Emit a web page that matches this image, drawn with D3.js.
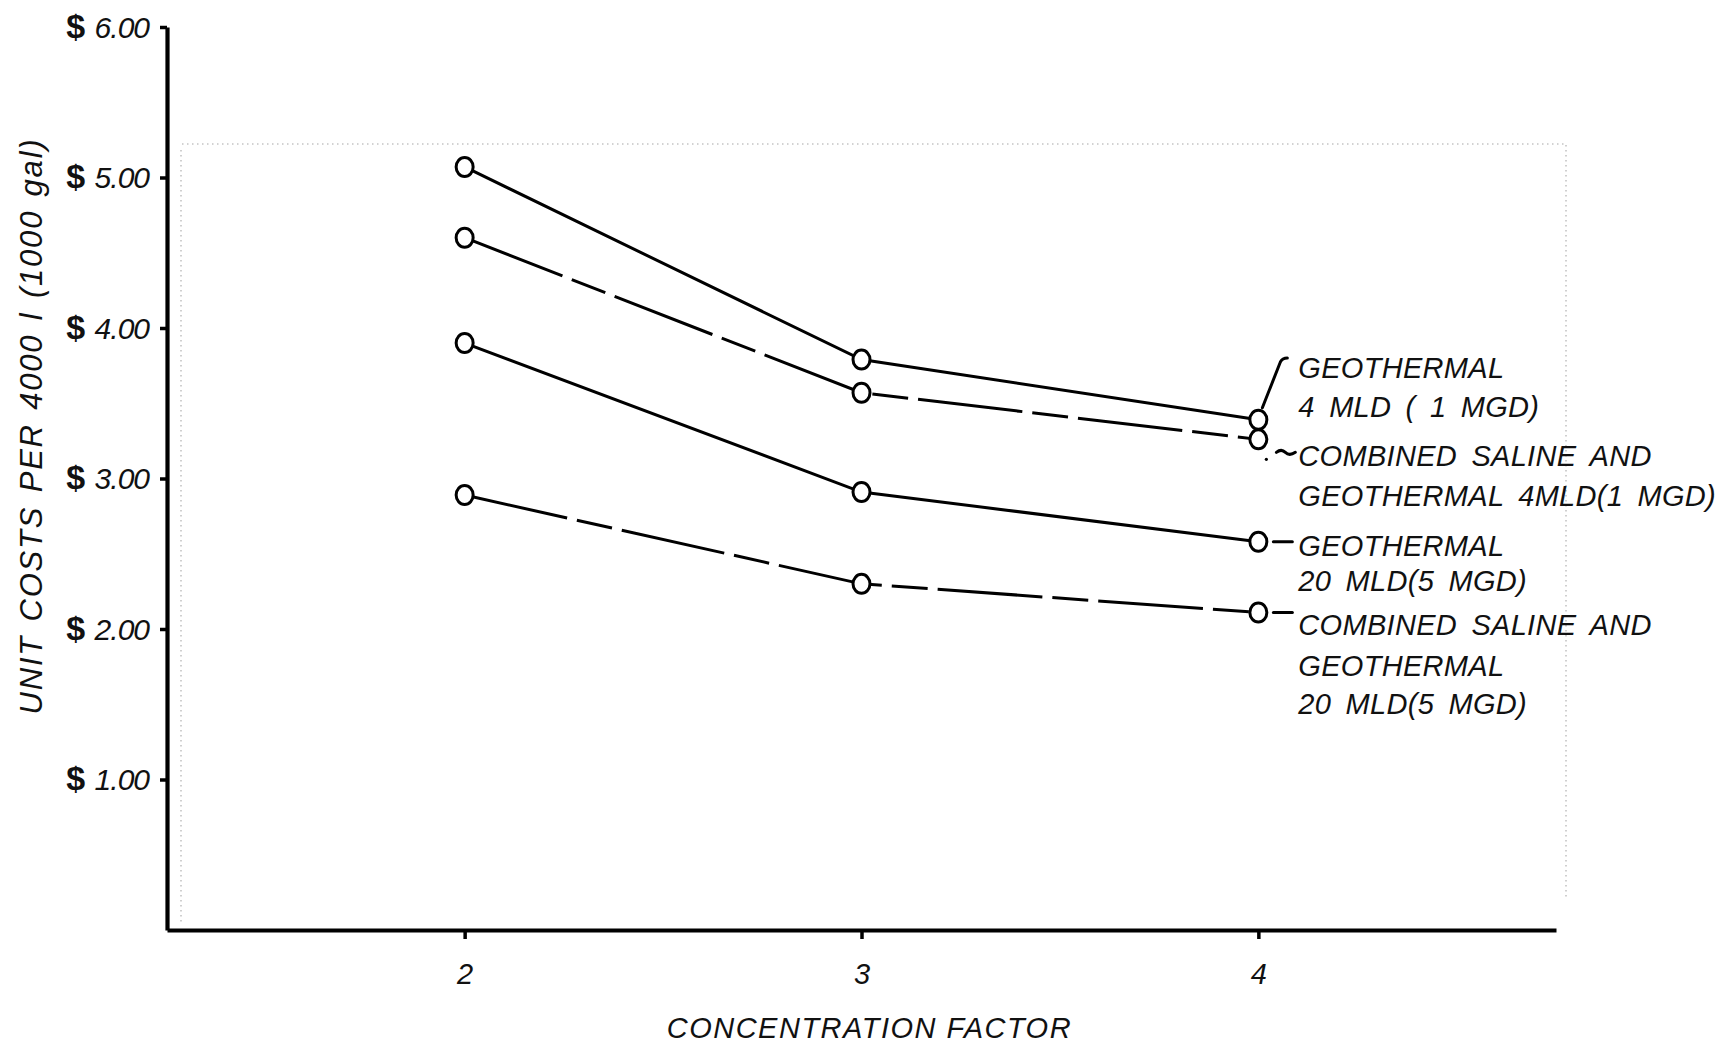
<!DOCTYPE html>
<html>
<head>
<meta charset="utf-8">
<script src="https://cdn.jsdelivr.net/npm/d3@7"></script>
<style>
  html, body { margin: 0; padding: 0; background: #ffffff; }
  svg { display: block; }
  text { font-family: "Liberation Sans", Arial, sans-serif; font-style: italic; fill: #111; }
</style>
</head>
<body>
<svg id="chart" width="1735" height="1043"></svg>
<script>
// Concentration factors on the x axis
const concentration = [2, 3, 4];

// Unit cost ($ per 4000 l / 1000 gal) for each process
const geothermal4 = [5.07, 3.79, 3.39];
const combined4   = [4.60, 3.57, 3.26];
const geothermal20 = [3.90, 2.91, 2.58];
const combined20   = [2.89, 2.30, 2.11];

const yTicks = [1, 2, 3, 4, 5, 6];
const yTickLabels = ["1.00", "2.00", "3.00", "4.00", "5.00", "6.00"];
const xTicks = [2, 3, 4];
const xTickLabels = ["2", "3", "4"];

const seriesNames = ["geothermal4", "combined4", "geothermal20", "combined20"];
const seriesLabels = [
  ["GEOTHERMAL", "4 MLD ( 1 MGD)"],
  ["COMBINED SALINE AND", "GEOTHERMAL 4MLD(1 MGD)"],
  ["GEOTHERMAL", "20 MLD(5 MGD)"],
  ["COMBINED SALINE AND", "GEOTHERMAL", "20 MLD(5 MGD)"]
];
const seriesDashed = [false, true, false, true];

const xTitle = "CONCENTRATION FACTOR";
const yTitle = "UNIT COSTS PER 4000 l (1000 gal)";

const values = [geothermal4, combined4, geothermal20, combined20];

const svg = d3.select("#chart");

const x = d3.scaleLinear().domain([1.25, 4.75]).range([167, 1556]);
const y = d3.scaleLinear().domain([0, 6]).range([930, 27]);

// faint frame showing through the paper
const ghost = svg.append("g")
  .attr("fill", "none")
  .attr("stroke", "#c4c4c4")
  .attr("stroke-width", 1.6)
  .attr("stroke-dasharray", "1.5 3.5");
ghost.append("path").attr("d", `M182,144 H1566 V900`);
ghost.append("path").attr("d", `M181,150 V925`);

// y axis
const yAxis = svg.append("g")
  .attr("transform", `translate(${x(1.25)},0)`)
  .call(d3.axisLeft(y).tickValues(yTicks).tickSize(7).tickSizeOuter(0)
    .tickFormat((d, i) => yTickLabels[i]));
yAxis.select(".domain").attr("stroke", "#000").attr("stroke-width", 4.2);
yAxis.selectAll(".tick line").attr("stroke", "#000").attr("stroke-width", 3.5);
yAxis.selectAll(".tick text").remove();
yAxis.selectAll(".tick").append("text")
  .attr("x", -18)
  .attr("dy", "0.34em")
  .attr("text-anchor", "end")
  .style("font-size", "30px")
  .each(function (d, i) {
    const t = d3.select(this);
    t.append("tspan").style("font-style", "normal").style("font-weight", "bold")
      .style("font-size", "34px").text("$ ");
    t.append("tspan").attr("letter-spacing", "-1").text(yTickLabels[i]);
  });

// x axis
const xAxis = svg.append("g")
  .attr("transform", `translate(0,${y(0)})`)
  .call(d3.axisBottom(x).tickValues(xTicks).tickSize(9).tickSizeOuter(0)
    .tickFormat((d, i) => xTickLabels[i]));
xAxis.select(".domain").attr("stroke", "#000").attr("stroke-width", 4.2);
xAxis.selectAll(".tick line").attr("stroke", "#000").attr("stroke-width", 3.5);
xAxis.selectAll(".tick text")
  .attr("y", 33)
  .attr("dy", "0.72em")
  .style("font-size", "29px")
  .attr("fill", "#111");

// axis titles
svg.append("text")
  .attr("x", x(3.02))
  .attr("y", 1038)
  .attr("text-anchor", "middle")
  .attr("letter-spacing", "1.5")
  .style("font-size", "29px")
  .text(xTitle);

svg.append("text")
  .attr("transform", `translate(42,${426}) rotate(-90)`)
  .attr("text-anchor", "middle")
  .attr("letter-spacing", "1.8")
  .attr("word-spacing", "3")
  .style("font-size", "31px")
  .text(yTitle);

// series lines
const line = d3.line()
  .x((d, i) => x(concentration[i]))
  .y(d => y(d));

const lines = svg.append("g");
values.forEach((vals, k) => {
  lines.append("path")
    .attr("class", "series " + seriesNames[k])
    .attr("d", line(vals))
    .attr("fill", "none")
    .attr("stroke", "#000")
    .attr("stroke-width", 3)
    .attr("stroke-dasharray", seriesDashed[k] ? "105 10 36 10" : null);
});

// open circle markers
const marks = svg.append("g");
values.forEach((vals, k) => {
  marks.selectAll(null)
    .data(vals)
    .join("ellipse")
    .attr("cx", (d, i) => x(concentration[i]))
    .attr("cy", d => y(d))
    .attr("rx", 8.5)
    .attr("ry", 9.5)
    .attr("fill", "#fff")
    .attr("stroke", "#000")
    .attr("stroke-width", 3);
});

// series labels at the right end
const labelX = x(4) + 40;
const labelBaselines = [
  [378, 417],
  [466, 506],
  [556, 591],
  [635, 676, 714]
];
const labels = svg.append("g").style("font-size", "29px")
  .attr("letter-spacing", "0.3").attr("word-spacing", "6");
seriesLabels.forEach((lines, k) => {
  lines.forEach((txt, j) => {
    labels.append("text")
      .attr("x", labelX)
      .attr("y", labelBaselines[k][j])
      .text(txt);
  });
});

// leaders joining labels to their end markers
const last = v => v[v.length - 1];
const lead = svg.append("g").attr("fill", "none").attr("stroke", "#000")
  .attr("stroke-width", 3).attr("stroke-linecap", "round");
const xe = x(4);
lead.append("path")
  .attr("d", `M${xe + 4},${y(last(geothermal4)) - 12} L${xe + 22},${362} Q${xe + 24},${358} ${xe + 29},${358}`);
lead.append("path")
  .attr("d", `M${xe + 18},${y(last(combined4)) + 13} q5,-4 9,0 t10,0`);
svg.append("circle").attr("cx", xe + 8).attr("cy", y(last(combined4)) + 20).attr("r", 1.6).attr("fill", "#000");
lead.append("path")
  .attr("d", `M${xe + 15},${y(last(geothermal20))} h19`);
lead.append("path")
  .attr("d", `M${xe + 15},${y(last(combined20))} h19`);
</script>
</body>
</html>
